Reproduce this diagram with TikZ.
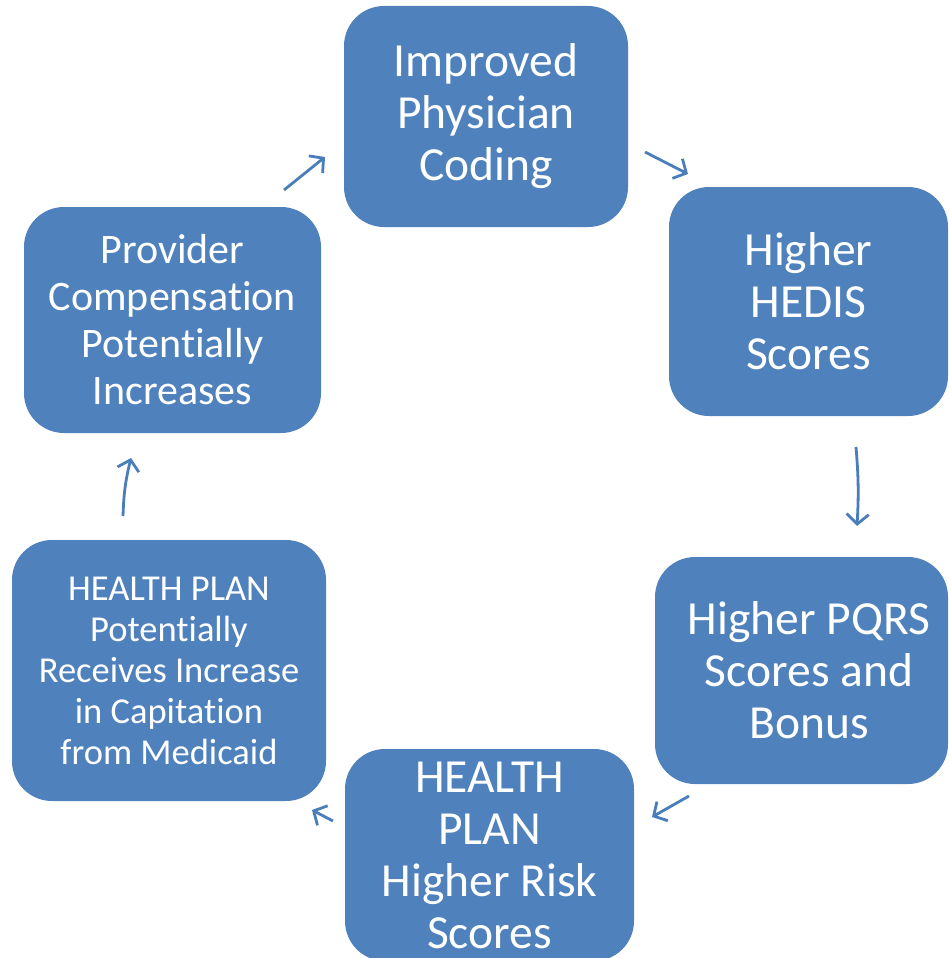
\documentclass[tikz,border=0pt]{standalone}
\usepackage{fontspec}
\setmainfont{Carlito}[Ligatures={NoCommon,NoRequired,NoContextual}]
\usetikzlibrary{arrows.meta}
\definecolor{boxblue}{HTML}{4F81BD}
\definecolor{arrowblue}{HTML}{4A7EBB}
\tikzset{
  cyclebox/.style={draw=none, fill=boxblue, rounded corners=40pt, text=white,
    align=center, inner sep=0pt},
  bigtext/.style={font=\fontsize{47.5}{52}\selectfont},
  midtext/.style={font=\fontsize{42}{47}\selectfont},
  smalltext/.style={font=\fontsize{36.5}{41}\selectfont},
  cyclearrow/.style={draw=arrowblue, line width=2.8pt,
    -{Straight Barb[length=10pt,width=22pt,line width=2.8pt]}}
}
\newcommand{\pqrsshiftfix}{\hspace*{15pt}}
\begin{document}
\begin{tikzpicture}[x=1pt,y=-1pt]
\clip (0,0) rectangle (949,958);
\fill[white] (0,0) rectangle (949,958);
% boxes
\node[cyclebox, bigtext, minimum width=284pt, minimum height=221pt] (coding) at (486,116.5)
  {Improved\\Physician\\Coding};
\node[cyclebox, bigtext, minimum width=279pt, minimum height=229pt] (hedis) at (808.5,301.5)
  {Higher\\HEDIS\\Scores};
\node[cyclebox, bigtext, minimum width=293pt, minimum height=227pt] (pqrs) at (801.5,670.5)
  {\pqrsshiftfix Higher PQRS\\\pqrsshiftfix Scores and\\\pqrsshiftfix Bonus};
\node[cyclebox, bigtext, minimum width=289pt, minimum height=212pt] (risk) at (489.5,855)
  {HEALTH\\PLAN\\Higher Risk\\Scores};
\node[cyclebox, smalltext, minimum width=314pt, minimum height=261pt] (capit) at (169,670.5)
  {HEALTH PLAN\\Potentially\\Receives Increase\\in Capitation\\from Medicaid};
\node[cyclebox, midtext, minimum width=297pt, minimum height=226pt] (prov) at (172.5,320)
  {Provider\\Compensation\\Potentially\\Increases};
% arrow end points
\coordinate (a1s) at (284,190); \coordinate (a1e) at (325,157);
\coordinate (a2s) at (645,152); \coordinate (a2e) at (688,174);
\coordinate (a3s) at (856,447); \coordinate (a3e) at (857,526);
\coordinate (a4s) at (689,796); \coordinate (a4e) at (652,817);
\coordinate (a5s) at (333,821); \coordinate (a5e) at (312,810);
\coordinate (a6s) at (123,516); \coordinate (a6e) at (131,458);
% arrows
\draw[cyclearrow] (a1s) -- (a1e);
\draw[cyclearrow] (a2s) -- (a2e);
\draw[cyclearrow] (a3s) to[bend left=4] (a3e);
\draw[cyclearrow] (a4s) -- (a4e);
\draw[cyclearrow] (a5s) -- (a5e);
\draw[cyclearrow] (a6s) to[bend left=6] (a6e);
\end{tikzpicture}
\end{document}
